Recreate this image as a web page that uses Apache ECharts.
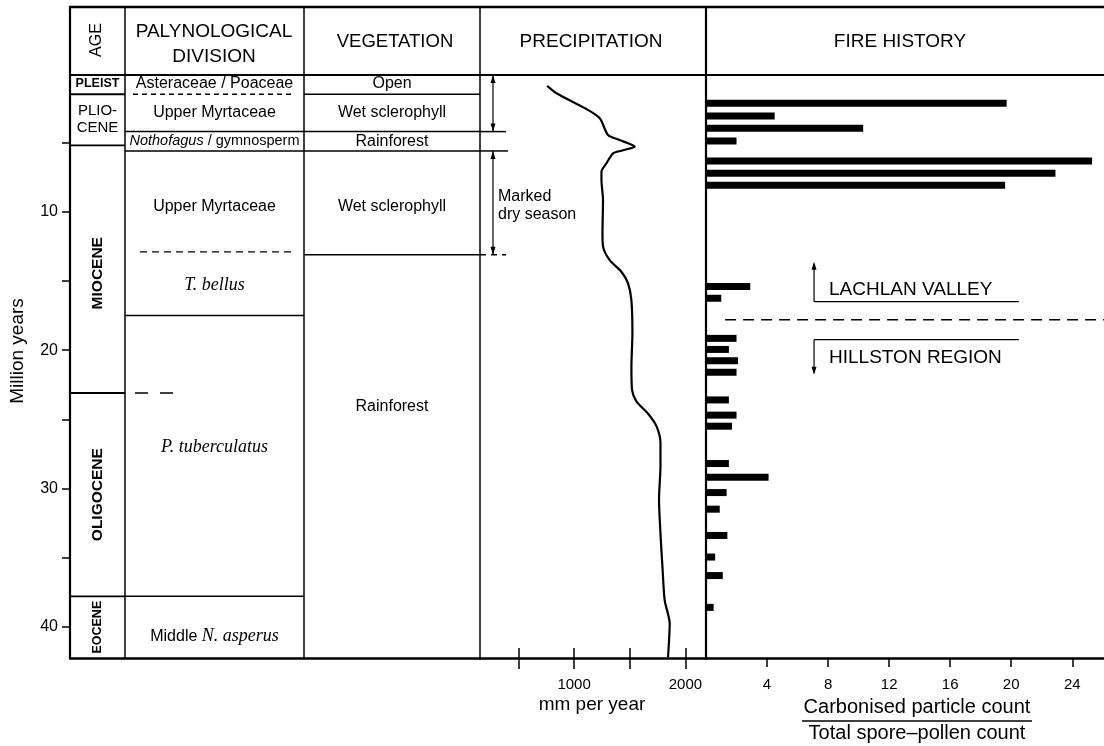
<!DOCTYPE html>
<html>
<head>
<meta charset="utf-8">
<script src="https://cdn.jsdelivr.net/npm/echarts@6/dist/echarts.min.js"></script>
<style>
  html, body { margin: 0; background: #fff; }
  #main { width: 1104px; height: 746px; }
</style>
</head>
<body>
<div id="main"></div>
<script>
// all ages in million years (Ma)
const yMax = 42.26

// [name, top, bottom]
const epochs = [
  ['PLEIST', 0, 1.5],
  ['PLIO-\nCENE', 1.5, 5.2],
  ['MIOCENE', 5.2, 23.1],
  ['OLIGOCENE', 23.1, 37.8],
  ['EOCENE', 37.8, yMax]
]
// [label, top, bottom, label age]
const palynUnits = [
  ['Asteraceae / Poaceae', 0, 1.5, 0.75],
  ['Upper Myrtaceae', 1.5, 4.2, 2.85],
  ['{i|Nothofagus} / gymnosperm', 4.2, 5.6, 4.9],
  ['Upper Myrtaceae', 5.6, 12.9, 9.65],
  ['{s|T. bellus}', 12.9, 17.5, 15.3],
  ['{s|P. tuberculatus}', 17.5, 37.8, 27.0],
  ['Middle {s|N. asperus}', 37.8, yMax, 40.7]
]
const palynDashed = [1.5, 12.9]
const shortDash = [23.1]

const vegUnits = [
  ['Open', 0, 1.5, 0.75],
  ['Wet sclerophyll', 1.5, 4.2, 2.85],
  ['Rainforest', 4.2, 5.6, 4.9],
  ['Wet sclerophyll', 5.6, 13.1, 9.65],
  ['Rainforest', 13.1, yMax, 24.1]
]

const drySeasons = [[0.1, 4.2], [5.6, 13.1]]
const seasonLabels = ['', 'Marked\ndry season']

// precipitation curve
const precipAge = [0.9, 1.43, 2.57, 3.24, 4.45, 4.81, 5.29, 5.58, 5.77, 6.49, 7.1, 7.7, 9.15, 11.55, 12.5, 13.5, 14.33, 15.17, 16.4, 18.8, 21.2, 22.9, 23.7, 24.6, 25.5, 26.7, 28.4, 30.8, 33.25, 35.7, 38.1, 39.75, 42.2]
const precipMM = [758, 842, 1111, 1231, 1305, 1410, 1545, 1425, 1350, 1291, 1246, 1246, 1260, 1255, 1260, 1320, 1425, 1485, 1515, 1524, 1515, 1521, 1560, 1665, 1740, 1776, 1776, 1763, 1776, 1794, 1814, 1859, 1844]

// fire history: carbonised particle / total spore-pollen ratio
const fireAge = [2.15, 3.07, 3.96, 4.88, 6.33, 7.22, 8.08, 15.4, 16.25, 19.15, 19.95, 20.77, 21.6, 23.6, 24.7, 25.5, 28.2, 29.2, 30.3, 31.5, 33.4, 34.96, 36.3, 38.6]
const fireRatio = [19.7, 4.5, 10.3, 2.0, 25.3, 22.9, 19.6, 2.9, 1.0, 2.0, 1.5, 2.1, 2.0, 1.5, 2.0, 1.7, 1.5, 4.1, 1.35, 0.9, 1.4, 0.6, 1.1, 0.5]
const regionBoundary = 17.8

const yTicks = [5, 10, 15, 20, 25, 30, 35, 40]
const yLabels = [10, 20, 30, 40]
const precipTicks = [500, 1000, 1500, 2000]
const precipLabels = [1000, 2000]
const fireTicks = [4, 8, 12, 16, 20, 24]

const SANS = '"Liberation Sans", Arial, sans-serif'
const SERIF = '"Liberation Serif", "Times New Roman", serif'
const cols = [0, 55, 234, 410]   // table column edges in grid 0 units

const myChart = echarts.init(document.getElementById('main'))

function hline(x1, x2, y, w, dash) {
  return { type: 'line', shape: { x1, y1: y, x2, y2: y }, style: { stroke: '#000', lineWidth: w || 1.5, lineDash: dash || null } }
}
function txt(x, y, text, font, rot, extra) {
  return {
    type: 'text', x, y, rotation: rot || 0,
    style: Object.assign({ text, font, fill: '#000', align: 'center', verticalAlign: 'middle' }, extra || {})
  }
}

function epochItem(params, api) {
  const e = epochs[params.dataIndex]
  const a = api.coord([cols[0], e[1]]), b = api.coord([cols[1], e[2]])
  const ch = []
  if (e[2] < yMax) ch.push(hline(a[0], b[0], b[1], 1.8))
  const cx = (a[0] + b[0]) / 2, cy = (a[1] + b[1]) / 2
  if (e[2] - e[1] > 4) {
    const size = e[2] - e[1] > 10 ? 15.5 : 12.5
    ch.push(txt(cx, cy + (e[0] === 'MIOCENE' ? 4 : 0), e[0], `bold ${size}px ${SANS}`, Math.PI / 2))
  } else if (e[0] === 'PLEIST') {
    ch.push(txt(cx, cy, e[0], `bold 12.5px ${SANS}`))
  } else {
    ch.push(txt(cx, cy, e[0], `15px ${SANS}`, 0, { lineHeight: 17 }))
  }
  return { type: 'group', children: ch }
}

function palynItem(params, api) {
  const u = palynUnits[params.dataIndex]
  const a = api.coord([cols[1], u[1]]), b = api.coord([cols[2], u[2]])
  const ch = []
  if (u[2] < yMax) {
    if (palynDashed.includes(u[2])) {
      const dash = u[2] < 2 ? [5, 4] : [7, 5]
      ch.push(hline(a[0] + (u[2] < 2 ? 8 : 15), b[0] - 9, b[1], 1.4, dash))
    } else {
      ch.push(hline(a[0], b[0], b[1], 1.5))
    }
  }
  const ly = api.coord([0, u[3]])[1]
  const small = u[0].indexOf('Nothofagus') >= 0
  ch.push(txt((a[0] + b[0]) / 2, ly, u[0], `${small ? 14.5 : 16}px ${SANS}`, 0, {
    rich: {
      i: { font: `italic 14.5px ${SANS}` },
      s: { font: `italic 18px ${SERIF}` }
    }
  }))
  if (params.dataIndex === 0) {
    shortDash.forEach(v => {
      const y = api.coord([0, v])[1]
      ch.push(hline(a[0] + 10, a[0] + 50, y, 1.4, [13, 12]))
    })
  }
  return { type: 'group', children: ch }
}

function vegItem(params, api) {
  const u = vegUnits[params.dataIndex]
  const a = api.coord([cols[2], u[1]]), b = api.coord([cols[3], u[2]])
  const ch = []
  if (u[2] < yMax) ch.push(hline(a[0], b[0], b[1], 1.5))
  const ly = api.coord([0, u[3]])[1]
  ch.push(txt((a[0] + b[0]) / 2, ly, u[0], `16px ${SANS}`))
  return { type: 'group', children: ch }
}

function arrowHead(x, y, dir) {
  return { type: 'polygon', shape: { points: [[x, y], [x - 2.5, y - dir * 8], [x + 2.5, y - dir * 8]] }, style: { fill: '#000' } }
}

function seasonItem(params, api) {
  const s = drySeasons[params.dataIndex]
  const x0 = api.coord([155, 0])[0]
  const y0 = api.coord([155, s[0]])[1], y1 = api.coord([155, s[1]])[1]
  const ax = x0 + 13
  const ch = [
    { type: 'line', shape: { x1: ax, y1: y0, x2: ax, y2: y1 }, style: { stroke: '#000', lineWidth: 1.2 } },
    arrowHead(ax, y0, -1), arrowHead(ax, y1, 1)
  ]
  const last = params.dataIndex === drySeasons.length - 1
  if (s[0] > 1) ch.push(hline(x0, x0 + 28, y0, 1.5))
  ch.push(hline(x0, x0 + 26, y1, 1.5, last ? [6, 5] : null))
  if (seasonLabels[params.dataIndex]) {
    ch.push(txt(ax + 5, (y0 + y1) / 2 + 3, seasonLabels[params.dataIndex], `16px ${SANS}`, 0, { align: 'left', lineHeight: 18 }))
  }
  return { type: 'group', children: ch }
}

function fireItem(params, api) {
  const p0 = api.coord([0, api.value(1)]), p1 = api.coord([api.value(0), api.value(1)])
  return { type: 'rect', shape: { x: p0[0], y: p0[1] - 3.5, width: p1[0] - p0[0], height: 7 }, style: { fill: '#000' } }
}

function regionItem(params, api) {
  const y = api.coord([0, regionBoundary])[1]
  const xs = api.coord([1.25, 0])[0], xe = api.coord([26.1, 0])[0]
  const bx = api.coord([7.08, 0])[0], be = api.coord([20.5, 0])[0]
  return {
    type: 'group',
    children: [
      hline(xs, xe, y, 1.5, [11, 7]),
      // Lachlan Valley bracket
      { type: 'line', shape: { x1: bx, y1: y - 18, x2: bx, y2: y - 56 }, style: { stroke: '#000', lineWidth: 1.2 } },
      arrowHead(bx, y - 58, -1),
      hline(bx, be, y - 18, 1.2),
      txt(bx + 15, y - 30, 'LACHLAN VALLEY', `19px ${SANS}`, 0, { align: 'left' }),
      // Hillston region bracket
      { type: 'line', shape: { x1: bx, y1: y + 20, x2: bx, y2: y + 53 }, style: { stroke: '#000', lineWidth: 1.2 } },
      arrowHead(bx, y + 55, 1),
      hline(bx, be, y + 20, 1.2),
      txt(bx + 15, y + 38, 'HILLSTON REGION', `19px ${SANS}`, 0, { align: 'left' })
    ]
  }
}

const plotTop = 73.5, plotH = 584.5
const gridBase = { top: plotTop, height: plotH, containLabel: false }
const hiddenY = { type: 'value', inverse: true, min: 0, max: yMax, show: false }
const plain = v => String(v)

// header box and column rules
const colX = [70, 125, 304, 480, 706]
const graphics = [
  hline(69, 1104, 7, 2.5),
  hline(70, 1104, 75, 2),
  ...colX.map((x, i) => ({ type: 'line', shape: { x1: x, y1: 7, x2: x, y2: 658 }, style: { stroke: '#000', lineWidth: i === 0 || i === 4 ? 2.2 : 1.5 } })),
  txt(97, 40, 'AGE', `16px ${SANS}`, Math.PI / 2),
  txt(214, 32, 'PALYNOLOGICAL', `19px ${SANS}`),
  txt(214, 57, 'DIVISION', `19px ${SANS}`),
  txt(395, 42, 'VEGETATION', `18.5px ${SANS}`),
  txt(591, 42, 'PRECIPITATION', `19px ${SANS}`),
  txt(900, 42, 'FIRE HISTORY', `19px ${SANS}`),
  txt(18, 351, 'Million years', `19px ${SANS}`, Math.PI / 2),
  txt(592, 705, 'mm per year', `19px ${SANS}`),
  txt(917, 707, 'Carbonised particle count', `20px ${SANS}`),
  hline(802, 1032, 721, 1.5),
  txt(917, 733, 'Total spore\u2013pollen count', `20px ${SANS}`)
].map(g => Object.assign(g, { z: 100 }))

const option = {
  animation: false,
  backgroundColor: '#fff',
  textStyle: { fontFamily: SANS, color: '#000' },
  graphic: graphics,
  grid: [
    Object.assign({ left: 70, width: 410 }, gridBase),
    Object.assign({ left: 480, width: 226 }, gridBase),
    Object.assign({ left: 706, width: 398 }, gridBase)
  ],
  xAxis: [
    {
      gridIndex: 0, type: 'value', min: 0, max: 410, position: 'bottom',
      axisLine: { onZero: false, lineStyle: { color: '#000', width: 2.5 } },
      axisTick: { show: false }, axisLabel: { show: false }, splitLine: { show: false }
    },
    {
      gridIndex: 1, type: 'value', min: 155, max: 2185, position: 'bottom',
      axisLine: { onZero: false, lineStyle: { color: '#000', width: 2.5 } },
      axisTick: { customValues: precipTicks, length: 11, lineStyle: { color: '#000', width: 1.5 } },
      axisLabel: { customValues: precipLabels, formatter: plain, fontSize: 15, color: '#000', margin: 19, fontFamily: SANS },
      splitLine: { show: false }
    },
    {
      gridIndex: 1, type: 'value', min: 155, max: 2185, position: 'bottom',
      axisLine: { show: false, onZero: false },
      axisTick: { inside: true, customValues: precipTicks, length: 10, lineStyle: { color: '#000', width: 1.5 } },
      axisLabel: { show: false }, splitLine: { show: false }
    },
    {
      gridIndex: 2, type: 'value', min: 0, max: 26.08, position: 'bottom',
      axisLine: { onZero: false, lineStyle: { color: '#000', width: 2.5 } },
      axisTick: { customValues: fireTicks, length: 9, lineStyle: { color: '#000', width: 1.5 } },
      axisLabel: { customValues: fireTicks, formatter: plain, fontSize: 15, color: '#000', margin: 19, fontFamily: SANS },
      splitLine: { show: false }
    }
  ],
  yAxis: [
    {
      gridIndex: 0, type: 'value', inverse: true, min: 0, max: yMax, position: 'left',
      axisLine: { show: false, onZero: false },
      axisTick: { customValues: yTicks, length: 8, lineStyle: { color: '#000', width: 1.5 } },
      axisLabel: { customValues: yLabels, fontSize: 16, color: '#000', margin: 12, fontFamily: SANS },
      splitLine: { show: false }
    },
    Object.assign({ gridIndex: 1 }, hiddenY),
    Object.assign({ gridIndex: 2 }, hiddenY)
  ],
  series: [
    { type: 'custom', xAxisIndex: 0, yAxisIndex: 0, renderItem: epochItem, data: epochs.map(e => [0, e[1], e[2]]), encode: { x: 0, y: [1, 2] } },
    { type: 'custom', xAxisIndex: 0, yAxisIndex: 0, renderItem: palynItem, data: palynUnits.map(u => [55, u[1], u[2]]), encode: { x: 0, y: [1, 2] } },
    { type: 'custom', xAxisIndex: 0, yAxisIndex: 0, renderItem: vegItem, data: vegUnits.map(u => [234, u[1], u[2]]), encode: { x: 0, y: [1, 2] } },
    { type: 'custom', xAxisIndex: 1, yAxisIndex: 1, renderItem: seasonItem, data: drySeasons.map(s => [155, s[0], s[1]]), encode: { x: 0, y: [1, 2] } },
    {
      name: 'Precipitation', type: 'line', xAxisIndex: 1, yAxisIndex: 1,
      data: precipMM.map((v, i) => [v, precipAge[i]]),
      showSymbol: false, smooth: 0.25, clip: false,
      lineStyle: { color: '#000', width: 2.2 }
    },
    { type: 'custom', xAxisIndex: 3, yAxisIndex: 2, renderItem: fireItem, data: fireRatio.map((v, i) => [v, fireAge[i]]), encode: { x: 0, y: 1 } },
    { type: 'custom', xAxisIndex: 3, yAxisIndex: 2, renderItem: regionItem, data: [[0, regionBoundary]], encode: { x: 0, y: 1 } }
  ]
}
myChart.setOption(option)
</script>
</body>
</html>
